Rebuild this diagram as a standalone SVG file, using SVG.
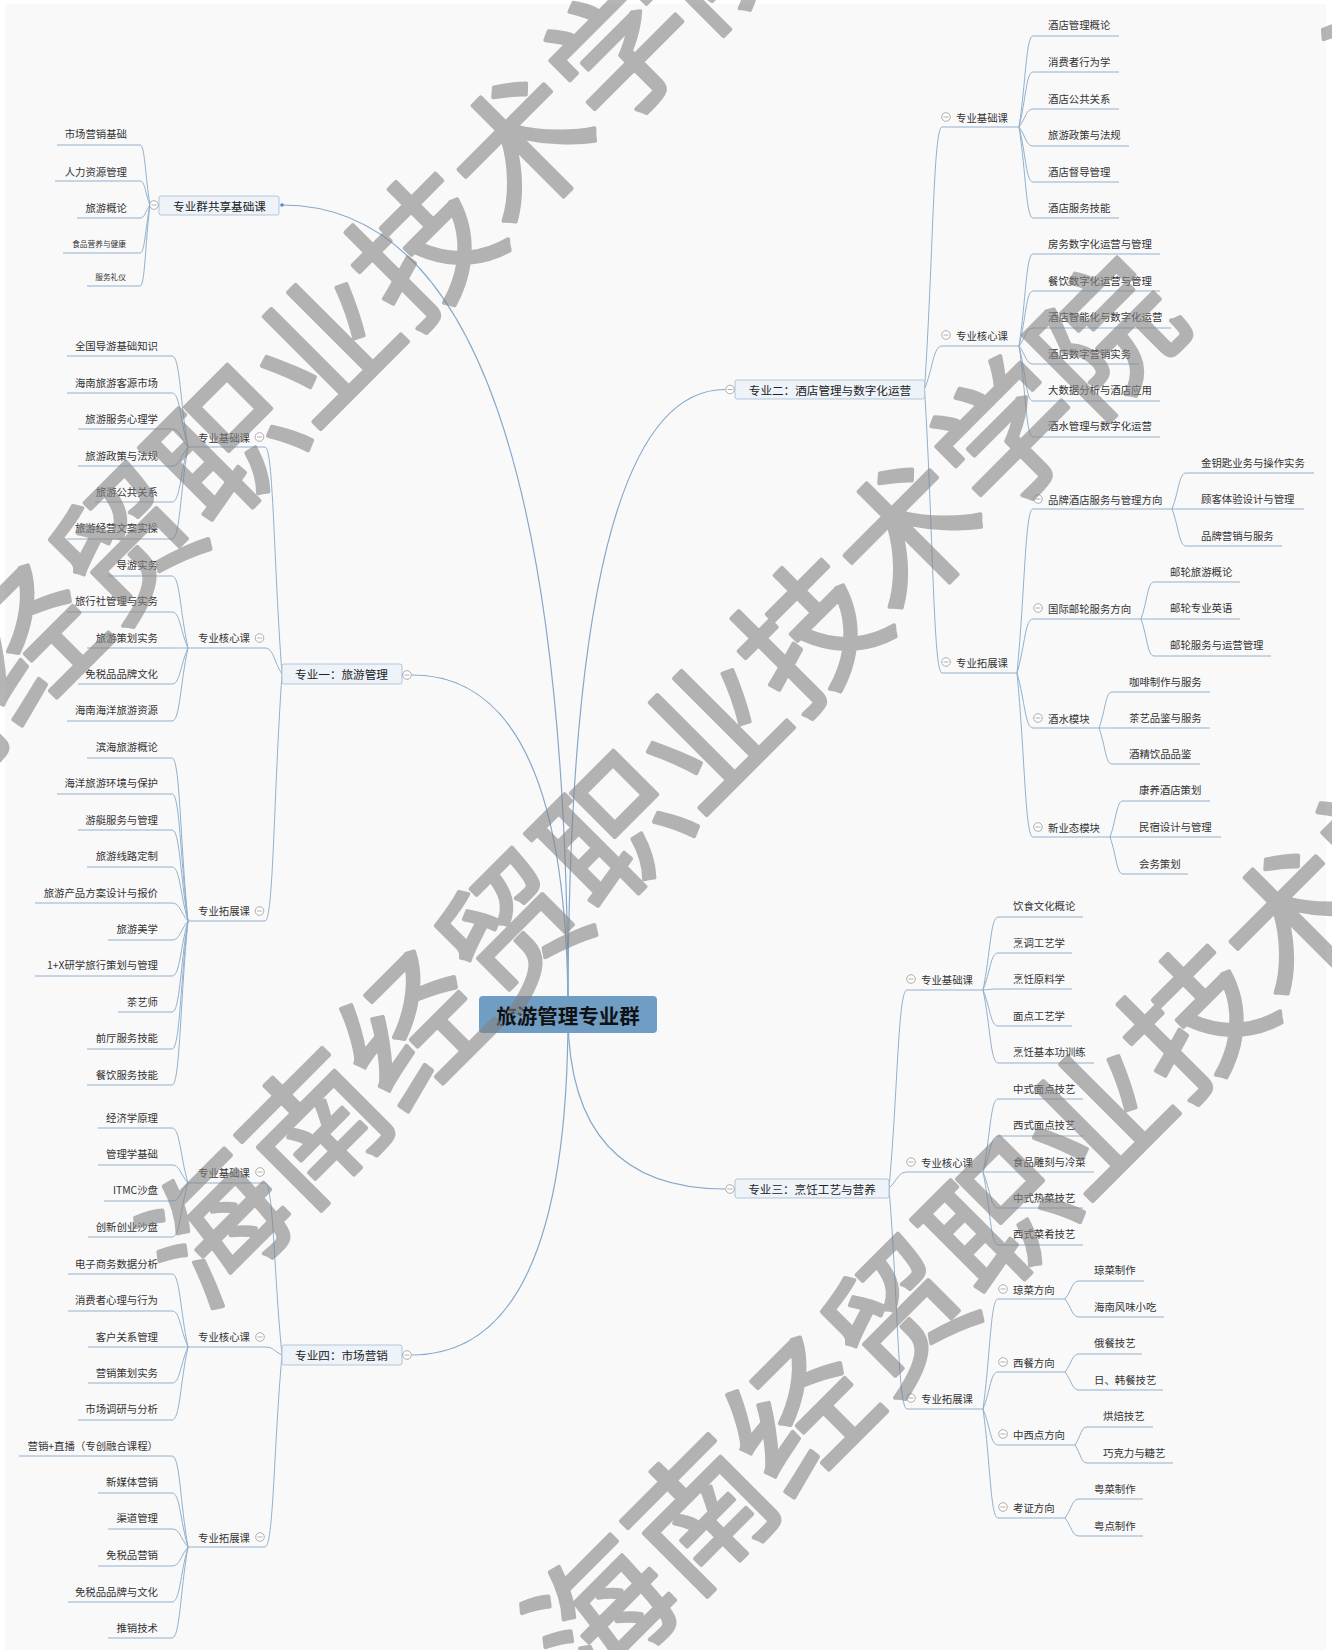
<svg xmlns="http://www.w3.org/2000/svg" xmlns:xlink="http://www.w3.org/1999/xlink" width="1332" height="1650" viewBox="0 0 1332 1650">
<style>
text{font-family:"Noto Sans CJK SC","Noto Sans",sans-serif;dominant-baseline:central;fill:#333;font-size:10.4px}
.e{text-anchor:end}
.s7{font-size:7.7px}
.m{font-size:11.6px;fill:#222;text-anchor:middle}
.c{font-size:20.5px;font-weight:700;fill:#111;text-anchor:middle}
.b{fill:#edf3f8;stroke:#b3c7d9;stroke-width:1}
.u{stroke:#91b1cd;stroke-width:1;fill:none}
#conn path{fill:none;stroke:#91b1cd;stroke-width:1}
#conn .k{stroke:#86a8c8;stroke-width:1.2}
.wm text{font-size:140px;font-weight:400;fill:#848484;stroke:#848484;stroke-width:4;stroke-linejoin:round;dominant-baseline:central}
</style>
<defs>
<g id="tg"><circle r="4.3" fill="#fff" stroke="#999" stroke-width="0.8"/><path d="M-2.5,0H2.5" stroke="#999" stroke-width="0.8"/></g>
</defs>
<rect width="1332" height="1650" fill="#ffffff"/>
<rect x="5" y="4" width="1321" height="1646" fill="#f9f9fa"/>
<g id="conn">
<path class="k" d="M568,1014 Q568,205 282,205"/>
<path class="k" d="M568,1014 Q568,675 412,675"/>
<path class="k" d="M568,1014 Q568,1355 412,1355"/>
<path class="k" d="M568,1014 Q568,389.5 725,389.5"/>
<path class="k" d="M568,1014 Q568,1189 725,1189"/>
<path d="M150,205 C145,175 145,145 140,145"/>
<path d="M150,205 C145,193 145,181 140,181"/>
<path d="M150,205 C145,211.5 145,218 140,218"/>
<path d="M150,205 C145,229 145,253 140,253"/>
<path d="M150,205 C145,245.5 145,286 140,286"/>
<path d="M282,674 C273.5,560.5 273.5,447 265,447"/>
<path d="M282,674 C273.5,661 273.5,648 265,648"/>
<path d="M282,674 C273.5,797.5 273.5,921 265,921"/>
<path d="M188,447 C180,401.5 180,356 172,356"/>
<path d="M188,447 C180,420 180,393 172,393"/>
<path d="M188,447 C180,438 180,429 172,429"/>
<path d="M188,447 C180,456.5 180,466 172,466"/>
<path d="M188,447 C180,474.5 180,502 172,502"/>
<path d="M188,447 C180,493 180,539 172,539"/>
<path d="M188,648 C180,612 180,576 172,576"/>
<path d="M188,648 C180,630 180,612 172,612"/>
<path d="M188,648 C180,648 180,648 172,648"/>
<path d="M188,648 C180,666 180,684 172,684"/>
<path d="M188,648 C180,684.5 180,721 172,721"/>
<path d="M188,921 C180,839.5 180,758 172,758"/>
<path d="M188,921 C180,857.5 180,794 172,794"/>
<path d="M188,921 C180,875.5 180,830 172,830"/>
<path d="M188,921 C180,894 180,867 172,867"/>
<path d="M188,921 C180,912 180,903 172,903"/>
<path d="M188,921 C180,930.5 180,940 172,940"/>
<path d="M188,921 C180,948.5 180,976 172,976"/>
<path d="M188,921 C180,966.5 180,1012 172,1012"/>
<path d="M188,921 C180,985 180,1049 172,1049"/>
<path d="M188,921 C180,1003 180,1085 172,1085"/>
<path d="M282,1355 C273.5,1269 273.5,1183 265,1183"/>
<path d="M282,1355 C273.5,1351 273.5,1347 265,1347"/>
<path d="M282,1355 C273.5,1451 273.5,1547 265,1547"/>
<path d="M188,1183 C180,1155.5 180,1128 172,1128"/>
<path d="M188,1183 C180,1174 180,1165 172,1165"/>
<path d="M188,1183 C180,1192 180,1201 172,1201"/>
<path d="M188,1183 C180,1210 180,1237 172,1237"/>
<path d="M188,1347 C180,1310.5 180,1274 172,1274"/>
<path d="M188,1347 C180,1329 180,1311 172,1311"/>
<path d="M188,1347 C180,1347 180,1347 172,1347"/>
<path d="M188,1347 C180,1365 180,1383 172,1383"/>
<path d="M188,1347 C180,1383.5 180,1420 172,1420"/>
<path d="M188,1547 C180,1501.5 180,1456 172,1456"/>
<path d="M188,1547 C180,1520 180,1493 172,1493"/>
<path d="M188,1547 C180,1538 180,1529 172,1529"/>
<path d="M188,1547 C180,1556.5 180,1566 172,1566"/>
<path d="M188,1547 C180,1574.5 180,1602 172,1602"/>
<path d="M188,1547 C180,1592.5 180,1638 172,1638"/>
<path d="M924.5,389 C933.25,258 933.25,127 942,127"/>
<path d="M924.5,389 C933.25,367.5 933.25,346 942,346"/>
<path d="M924.5,389 C933.25,531 933.25,673 942,673"/>
<path d="M1019,127 C1026,81.5 1026,36 1033,36"/>
<path d="M1019,127 C1026,99.5 1026,72 1033,72"/>
<path d="M1019,127 C1026,118 1026,109 1033,109"/>
<path d="M1019,127 C1026,136.5 1026,146 1033,146"/>
<path d="M1019,127 C1026,154.5 1026,182 1033,182"/>
<path d="M1019,127 C1026,172.5 1026,218 1033,218"/>
<path d="M1019,346 C1026,300 1026,254 1033,254"/>
<path d="M1019,346 C1026,318.5 1026,291 1033,291"/>
<path d="M1019,346 C1026,337 1026,328 1033,328"/>
<path d="M1019,346 C1026,355 1026,364 1033,364"/>
<path d="M1019,346 C1026,373.5 1026,401 1033,401"/>
<path d="M1019,346 C1026,391.5 1026,437 1033,437"/>
<path d="M1017,673 C1025,591 1025,509 1033,509"/>
<path d="M1017,673 C1025,646 1025,619 1033,619"/>
<path d="M1017,673 C1025,700.5 1025,728 1033,728"/>
<path d="M1017,673 C1025,755 1025,837 1033,837"/>
<path d="M1172,509 C1179,491 1179,473 1186,473"/>
<path d="M1172,509 C1179,509 1179,509 1186,509"/>
<path d="M1172,509 C1179,527.5 1179,546 1186,546"/>
<path d="M1141,619 C1147.5,600.5 1147.5,582 1154,582"/>
<path d="M1141,619 C1147.5,619 1147.5,619 1154,619"/>
<path d="M1141,619 C1147.5,637.5 1147.5,656 1154,656"/>
<path d="M1099,728 C1105.5,710 1105.5,692 1112,692"/>
<path d="M1099,728 C1105.5,728 1105.5,728 1112,728"/>
<path d="M1099,728 C1105.5,746 1105.5,764 1112,764"/>
<path d="M1110,837 C1116.5,819 1116.5,801 1123,801"/>
<path d="M1110,837 C1116.5,837 1116.5,837 1123,837"/>
<path d="M1110,837 C1116.5,855.5 1116.5,874 1123,874"/>
<path d="M889,1188 C898,1089 898,990 907,990"/>
<path d="M889,1188 C898,1180 898,1172 907,1172"/>
<path d="M889,1188 C898,1298.5 898,1409 907,1409"/>
<path d="M983,990 C990.5,953.5 990.5,917 998,917"/>
<path d="M983,990 C990.5,971.5 990.5,953 998,953"/>
<path d="M983,990 C990.5,989.5 990.5,989 998,989"/>
<path d="M983,990 C990.5,1008 990.5,1026 998,1026"/>
<path d="M983,990 C990.5,1026.5 990.5,1063 998,1063"/>
<path d="M983,1172 C990.5,1135.5 990.5,1099 998,1099"/>
<path d="M983,1172 C990.5,1154 990.5,1136 998,1136"/>
<path d="M983,1172 C990.5,1172 990.5,1172 998,1172"/>
<path d="M983,1172 C990.5,1190 990.5,1208 998,1208"/>
<path d="M983,1172 C990.5,1208.5 990.5,1245 998,1245"/>
<path d="M983,1409 C990.5,1354 990.5,1299 998,1299"/>
<path d="M983,1409 C990.5,1390.5 990.5,1372 998,1372"/>
<path d="M983,1409 C990.5,1427 990.5,1445 998,1445"/>
<path d="M983,1409 C990.5,1463.5 990.5,1518 998,1518"/>
<path d="M1065,1299 C1072,1290 1072,1281 1079,1281"/>
<path d="M1065,1299 C1072,1308 1072,1317 1079,1317"/>
<path d="M1065,1372 C1072,1363 1072,1354 1079,1354"/>
<path d="M1065,1372 C1072,1381 1072,1390 1079,1390"/>
<path d="M1075,1445 C1081,1436 1081,1427 1087,1427"/>
<path d="M1075,1445 C1081,1454 1081,1463 1087,1463"/>
<path d="M1065,1518 C1072,1508.5 1072,1499 1079,1499"/>
<path d="M1065,1518 C1072,1527 1072,1536 1079,1536"/>
</g>
<g id="n-root"><rect x="479" y="996" width="178" height="37" rx="4" fill="#6f9dc4"/><text class="c" x="568" y="1014.5">旅游管理专业群</text></g>
<g id="n-shared"><rect class="b" x="159" y="196" width="120" height="19" rx="2"/><text class="m" x="219.5" y="205.5">专业群共享基础课</text><use href="#tg" x="154" y="205"/><circle cx="282" cy="205" r="1.8" fill="#5b8db8"/></g>
<g id="n-s1"><line class="u" x1="57" y1="145" x2="140" y2="145"/><text class="e" x="127" y="133">市场营销基础</text></g>
<g id="n-s2"><line class="u" x1="55" y1="181" x2="140" y2="181"/><text class="e" x="127" y="171">人力资源管理</text></g>
<g id="n-s3"><line class="u" x1="77" y1="218" x2="140" y2="218"/><text class="e" x="127" y="207">旅游概论</text></g>
<g id="n-s4"><line class="u" x1="63" y1="253" x2="140" y2="253"/><text class="e s7" x="126" y="243">食品营养与健康</text></g>
<g id="n-s5"><line class="u" x1="87" y1="286" x2="140" y2="286"/><text class="e s7" x="126" y="276">服务礼仪</text></g>
<g id="n-m1"><rect class="b" x="282" y="664" width="120" height="20" rx="2"/><text class="m" x="341.5" y="674">专业一：旅游管理</text><use href="#tg" x="407" y="675"/></g>
<g id="n-m1a"><line class="u" x1="188" y1="447" x2="265" y2="447"/><text class="e" x="250" y="437">专业基础课</text><use href="#tg" x="259.5" y="437"/></g>
<g id="n-m1a1"><line class="u" x1="67" y1="356" x2="172" y2="356"/><text class="e" x="158" y="345">全国导游基础知识</text></g>
<g id="n-m1a2"><line class="u" x1="67" y1="393" x2="172" y2="393"/><text class="e" x="158" y="382">海南旅游客源市场</text></g>
<g id="n-m1a3"><line class="u" x1="78" y1="429" x2="172" y2="429"/><text class="e" x="158" y="418">旅游服务心理学</text></g>
<g id="n-m1a4"><line class="u" x1="78" y1="466" x2="172" y2="466"/><text class="e" x="158" y="455">旅游政策与法规</text></g>
<g id="n-m1a5"><line class="u" x1="95" y1="502" x2="172" y2="502"/><text class="e" x="158" y="491">旅游公共关系</text></g>
<g id="n-m1a6"><line class="u" x1="67" y1="539" x2="172" y2="539"/><text class="e" x="158" y="527">旅游经营文案实操</text></g>
<g id="n-m1b"><line class="u" x1="188" y1="648" x2="265" y2="648"/><text class="e" x="250" y="637">专业核心课</text><use href="#tg" x="259.5" y="638"/></g>
<g id="n-m1b1"><line class="u" x1="108" y1="576" x2="172" y2="576"/><text class="e" x="158" y="564">导游实务</text></g>
<g id="n-m1b2"><line class="u" x1="67" y1="612" x2="172" y2="612"/><text class="e" x="158" y="600">旅行社管理与实务</text></g>
<g id="n-m1b3"><line class="u" x1="87" y1="648" x2="172" y2="648"/><text class="e" x="158" y="637">旅游策划实务</text></g>
<g id="n-m1b4"><line class="u" x1="78" y1="684" x2="172" y2="684"/><text class="e" x="158" y="673">免税品品牌文化</text></g>
<g id="n-m1b5"><line class="u" x1="67" y1="721" x2="172" y2="721"/><text class="e" x="158" y="709">海南海洋旅游资源</text></g>
<g id="n-m1c"><line class="u" x1="188" y1="921" x2="265" y2="921"/><text class="e" x="250" y="910">专业拓展课</text><use href="#tg" x="259.5" y="911"/></g>
<g id="n-m1c1"><line class="u" x1="87" y1="758" x2="172" y2="758"/><text class="e" x="158" y="746">滨海旅游概论</text></g>
<g id="n-m1c2"><line class="u" x1="57" y1="794" x2="172" y2="794"/><text class="e" x="158" y="782">海洋旅游环境与保护</text></g>
<g id="n-m1c3"><line class="u" x1="78" y1="830" x2="172" y2="830"/><text class="e" x="158" y="819">游艇服务与管理</text></g>
<g id="n-m1c4"><line class="u" x1="87" y1="867" x2="172" y2="867"/><text class="e" x="158" y="855">旅游线路定制</text></g>
<g id="n-m1c5"><line class="u" x1="35" y1="903" x2="172" y2="903"/><text class="e" x="158" y="892">旅游产品方案设计与报价</text></g>
<g id="n-m1c6"><line class="u" x1="108" y1="940" x2="172" y2="940"/><text class="e" x="158" y="928">旅游美学</text></g>
<g id="n-m1c7"><line class="u" x1="35" y1="976" x2="172" y2="976"/><text class="e" x="158" y="964">1+X研学旅行策划与管理</text></g>
<g id="n-m1c8"><line class="u" x1="118" y1="1012" x2="172" y2="1012"/><text class="e" x="158" y="1001">茶艺师</text></g>
<g id="n-m1c9"><line class="u" x1="87" y1="1049" x2="172" y2="1049"/><text class="e" x="158" y="1037">前厅服务技能</text></g>
<g id="n-m1c10"><line class="u" x1="87" y1="1085" x2="172" y2="1085"/><text class="e" x="158" y="1074">餐饮服务技能</text></g>
<g id="n-m4"><rect class="b" x="282" y="1345" width="120" height="20" rx="2"/><text class="m" x="341.5" y="1355">专业四：市场营销</text><use href="#tg" x="407" y="1355"/></g>
<g id="n-m4a"><line class="u" x1="188" y1="1183" x2="265" y2="1183"/><text class="e" x="250" y="1172">专业基础课</text><use href="#tg" x="260" y="1172"/></g>
<g id="n-m4a1"><line class="u" x1="98" y1="1128" x2="172" y2="1128"/><text class="e" x="158" y="1117">经济学原理</text></g>
<g id="n-m4a2"><line class="u" x1="98" y1="1165" x2="172" y2="1165"/><text class="e" x="158" y="1153">管理学基础</text></g>
<g id="n-m4a3"><line class="u" x1="104" y1="1201" x2="172" y2="1201"/><text class="e" x="158" y="1189">ITMC沙盘</text></g>
<g id="n-m4a4"><line class="u" x1="88" y1="1237" x2="172" y2="1237"/><text class="e" x="158" y="1226">创新创业沙盘</text></g>
<g id="n-m4b"><line class="u" x1="188" y1="1347" x2="265" y2="1347"/><text class="e" x="250" y="1336">专业核心课</text><use href="#tg" x="260" y="1337"/></g>
<g id="n-m4b1"><line class="u" x1="68" y1="1274" x2="172" y2="1274"/><text class="e" x="158" y="1263">电子商务数据分析</text></g>
<g id="n-m4b2"><line class="u" x1="68" y1="1311" x2="172" y2="1311"/><text class="e" x="158" y="1299">消费者心理与行为</text></g>
<g id="n-m4b3"><line class="u" x1="88" y1="1347" x2="172" y2="1347"/><text class="e" x="158" y="1336">客户关系管理</text></g>
<g id="n-m4b4"><line class="u" x1="88" y1="1383" x2="172" y2="1383"/><text class="e" x="158" y="1372">营销策划实务</text></g>
<g id="n-m4b5"><line class="u" x1="78" y1="1420" x2="172" y2="1420"/><text class="e" x="158" y="1408">市场调研与分析</text></g>
<g id="n-m4c"><line class="u" x1="188" y1="1547" x2="265" y2="1547"/><text class="e" x="250" y="1537">专业拓展课</text><use href="#tg" x="260" y="1537"/></g>
<g id="n-m4c1"><line class="u" x1="19" y1="1456" x2="172" y2="1456"/><text class="e" x="158" y="1445">营销+直播（专创融合课程）</text></g>
<g id="n-m4c2"><line class="u" x1="98" y1="1493" x2="172" y2="1493"/><text class="e" x="158" y="1481">新媒体营销</text></g>
<g id="n-m4c3"><line class="u" x1="108" y1="1529" x2="172" y2="1529"/><text class="e" x="158" y="1517">渠道管理</text></g>
<g id="n-m4c4"><line class="u" x1="98" y1="1566" x2="172" y2="1566"/><text class="e" x="158" y="1554">免税品营销</text></g>
<g id="n-m4c5"><line class="u" x1="68" y1="1602" x2="172" y2="1602"/><text class="e" x="158" y="1591">免税品品牌与文化</text></g>
<g id="n-m4c6"><line class="u" x1="108" y1="1638" x2="172" y2="1638"/><text class="e" x="158" y="1627">推销技术</text></g>
<g id="n-m2"><rect class="b" x="735" y="380" width="189.5" height="19" rx="2"/><text class="m" x="830" y="389.5">专业二：酒店管理与数字化运营</text><use href="#tg" x="730" y="389.5"/></g>
<g id="n-m2a"><line class="u" x1="942" y1="127" x2="1019" y2="127"/><use href="#tg" x="946" y="117"/><text x="956" y="117">专业基础课</text></g>
<g id="n-m2a1"><line class="u" x1="1033" y1="36" x2="1119" y2="36"/><text x="1048" y="24">酒店管理概论</text></g>
<g id="n-m2a2"><line class="u" x1="1033" y1="72" x2="1119" y2="72"/><text x="1048" y="61">消费者行为学</text></g>
<g id="n-m2a3"><line class="u" x1="1033" y1="109" x2="1119" y2="109"/><text x="1048" y="98">酒店公共关系</text></g>
<g id="n-m2a4"><line class="u" x1="1033" y1="146" x2="1129" y2="146"/><text x="1048" y="134">旅游政策与法规</text></g>
<g id="n-m2a5"><line class="u" x1="1033" y1="182" x2="1119" y2="182"/><text x="1048" y="171">酒店督导管理</text></g>
<g id="n-m2a6"><line class="u" x1="1033" y1="218" x2="1119" y2="218"/><text x="1048" y="207">酒店服务技能</text></g>
<g id="n-m2b"><line class="u" x1="942" y1="346" x2="1019" y2="346"/><use href="#tg" x="946" y="335"/><text x="956" y="335">专业核心课</text></g>
<g id="n-m2b1"><line class="u" x1="1033" y1="254" x2="1160" y2="254"/><text x="1048" y="243">房务数字化运营与管理</text></g>
<g id="n-m2b2"><line class="u" x1="1033" y1="291" x2="1160" y2="291"/><text x="1048" y="280">餐饮数字化运营与管理</text></g>
<g id="n-m2b3"><line class="u" x1="1033" y1="328" x2="1171" y2="328"/><text x="1048" y="316">酒店智能化与数字化运营</text></g>
<g id="n-m2b4"><line class="u" x1="1033" y1="364" x2="1139" y2="364"/><text x="1048" y="353">酒店数字营销实务</text></g>
<g id="n-m2b5"><line class="u" x1="1033" y1="401" x2="1160" y2="401"/><text x="1048" y="389">大数据分析与酒店应用</text></g>
<g id="n-m2b6"><line class="u" x1="1033" y1="437" x2="1160" y2="437"/><text x="1048" y="425">酒水管理与数字化运营</text></g>
<g id="n-m2c"><line class="u" x1="942" y1="673" x2="1017" y2="673"/><use href="#tg" x="946" y="662"/><text x="956" y="662">专业拓展课</text></g>
<g id="n-m2c1"><line class="u" x1="1033" y1="509" x2="1172" y2="509"/><use href="#tg" x="1038" y="499"/><text x="1048" y="499">品牌酒店服务与管理方向</text></g>
<g id="n-m2c1a"><line class="u" x1="1186" y1="473" x2="1314" y2="473"/><text x="1201" y="462">金钥匙业务与操作实务</text></g>
<g id="n-m2c1b"><line class="u" x1="1186" y1="509" x2="1304" y2="509"/><text x="1201" y="498">顾客体验设计与管理</text></g>
<g id="n-m2c1c"><line class="u" x1="1186" y1="546" x2="1282" y2="546"/><text x="1201" y="535">品牌营销与服务</text></g>
<g id="n-m2c2"><line class="u" x1="1033" y1="619" x2="1141" y2="619"/><use href="#tg" x="1038" y="608"/><text x="1048" y="608">国际邮轮服务方向</text></g>
<g id="n-m2c2a"><line class="u" x1="1154" y1="582" x2="1240" y2="582"/><text x="1170" y="571">邮轮旅游概论</text></g>
<g id="n-m2c2b"><line class="u" x1="1154" y1="619" x2="1240" y2="619"/><text x="1170" y="607">邮轮专业英语</text></g>
<g id="n-m2c2c"><line class="u" x1="1154" y1="656" x2="1271" y2="656"/><text x="1170" y="644">邮轮服务与运营管理</text></g>
<g id="n-m2c3"><line class="u" x1="1033" y1="728" x2="1099" y2="728"/><use href="#tg" x="1038" y="718"/><text x="1048" y="718">酒水模块</text></g>
<g id="n-m2c3a"><line class="u" x1="1112" y1="692" x2="1210" y2="692"/><text x="1129" y="681">咖啡制作与服务</text></g>
<g id="n-m2c3b"><line class="u" x1="1112" y1="728" x2="1210" y2="728"/><text x="1129" y="717">茶艺品鉴与服务</text></g>
<g id="n-m2c3c"><line class="u" x1="1112" y1="764" x2="1200" y2="764"/><text x="1129" y="753">酒精饮品品鉴</text></g>
<g id="n-m2c4"><line class="u" x1="1033" y1="837" x2="1110" y2="837"/><use href="#tg" x="1038" y="827"/><text x="1048" y="827">新业态模块</text></g>
<g id="n-m2c4a"><line class="u" x1="1123" y1="801" x2="1210" y2="801"/><text x="1139" y="789">康养酒店策划</text></g>
<g id="n-m2c4b"><line class="u" x1="1123" y1="837" x2="1221" y2="837"/><text x="1139" y="826">民宿设计与管理</text></g>
<g id="n-m2c4c"><line class="u" x1="1123" y1="874" x2="1188" y2="874"/><text x="1139" y="863">会务策划</text></g>
<g id="n-m3"><rect class="b" x="735" y="1179" width="154" height="19" rx="2"/><text class="m" x="812" y="1188.5">专业三：烹饪工艺与营养</text><use href="#tg" x="730" y="1189"/></g>
<g id="n-m3a"><line class="u" x1="907" y1="990" x2="983" y2="990"/><use href="#tg" x="911" y="979"/><text x="921" y="979">专业基础课</text></g>
<g id="n-m3a1"><line class="u" x1="998" y1="917" x2="1083" y2="917"/><text x="1013" y="905">饮食文化概论</text></g>
<g id="n-m3a2"><line class="u" x1="998" y1="953" x2="1072" y2="953"/><text x="1013" y="942">烹调工艺学</text></g>
<g id="n-m3a3"><line class="u" x1="998" y1="989" x2="1072" y2="989"/><text x="1013" y="978">烹饪原料学</text></g>
<g id="n-m3a4"><line class="u" x1="998" y1="1026" x2="1072" y2="1026"/><text x="1013" y="1015">面点工艺学</text></g>
<g id="n-m3a5"><line class="u" x1="998" y1="1063" x2="1094" y2="1063"/><text x="1013" y="1051">烹饪基本功训练</text></g>
<g id="n-m3b"><line class="u" x1="907" y1="1172" x2="983" y2="1172"/><use href="#tg" x="911" y="1162"/><text x="921" y="1162">专业核心课</text></g>
<g id="n-m3b1"><line class="u" x1="998" y1="1099" x2="1083" y2="1099"/><text x="1013" y="1088">中式面点技艺</text></g>
<g id="n-m3b2"><line class="u" x1="998" y1="1136" x2="1083" y2="1136"/><text x="1013" y="1124">西式面点技艺</text></g>
<g id="n-m3b3"><line class="u" x1="998" y1="1172" x2="1094" y2="1172"/><text x="1013" y="1161">食品雕刻与冷菜</text></g>
<g id="n-m3b4"><line class="u" x1="998" y1="1208" x2="1083" y2="1208"/><text x="1013" y="1197">中式热菜技艺</text></g>
<g id="n-m3b5"><line class="u" x1="998" y1="1245" x2="1083" y2="1245"/><text x="1013" y="1233">西式菜肴技艺</text></g>
<g id="n-m3c"><line class="u" x1="907" y1="1409" x2="983" y2="1409"/><use href="#tg" x="911" y="1398"/><text x="921" y="1398">专业拓展课</text></g>
<g id="n-m3c1"><line class="u" x1="998" y1="1299" x2="1065" y2="1299"/><use href="#tg" x="1003" y="1289"/><text x="1013" y="1289">琼菜方向</text></g>
<g id="n-m3c1a"><line class="u" x1="1079" y1="1281" x2="1144" y2="1281"/><text x="1094" y="1269">琼菜制作</text></g>
<g id="n-m3c1b"><line class="u" x1="1079" y1="1317" x2="1164" y2="1317"/><text x="1094" y="1306">海南风味小吃</text></g>
<g id="n-m3c2"><line class="u" x1="998" y1="1372" x2="1065" y2="1372"/><use href="#tg" x="1003" y="1362"/><text x="1013" y="1362">西餐方向</text></g>
<g id="n-m3c2a"><line class="u" x1="1079" y1="1354" x2="1142" y2="1354"/><text x="1094" y="1342">俄餐技艺</text></g>
<g id="n-m3c2b"><line class="u" x1="1079" y1="1390" x2="1163" y2="1390"/><text x="1094" y="1379">日、韩餐技艺</text></g>
<g id="n-m3c3"><line class="u" x1="998" y1="1445" x2="1075" y2="1445"/><use href="#tg" x="1003" y="1434"/><text x="1013" y="1434">中西点方向</text></g>
<g id="n-m3c3a"><line class="u" x1="1087" y1="1427" x2="1153" y2="1427"/><text x="1103" y="1415">烘焙技艺</text></g>
<g id="n-m3c3b"><line class="u" x1="1087" y1="1463" x2="1173" y2="1463"/><text x="1103" y="1452">巧克力与糖艺</text></g>
<g id="n-m3c4"><line class="u" x1="998" y1="1518" x2="1065" y2="1518"/><use href="#tg" x="1003" y="1507"/><text x="1013" y="1507">考证方向</text></g>
<g id="n-m3c4a"><line class="u" x1="1079" y1="1499" x2="1143" y2="1499"/><text x="1094" y="1488">粤菜制作</text></g>
<g id="n-m3c4b"><line class="u" x1="1079" y1="1536" x2="1143" y2="1536"/><text x="1094" y="1525">粤点制作</text></g>
<g id="watermark" class="wm" opacity="0.6">
<text x="-226" y="884" transform="rotate(-45 -226 884)">海南经贸职业技术学院</text>
<text x="160" y="1270" transform="rotate(-45 160 1270)">海南经贸职业技术学院　　海南</text>
<text x="546" y="1656" transform="rotate(-45 546 1656)">海南经贸职业技术学院</text>
</g>
</svg>
